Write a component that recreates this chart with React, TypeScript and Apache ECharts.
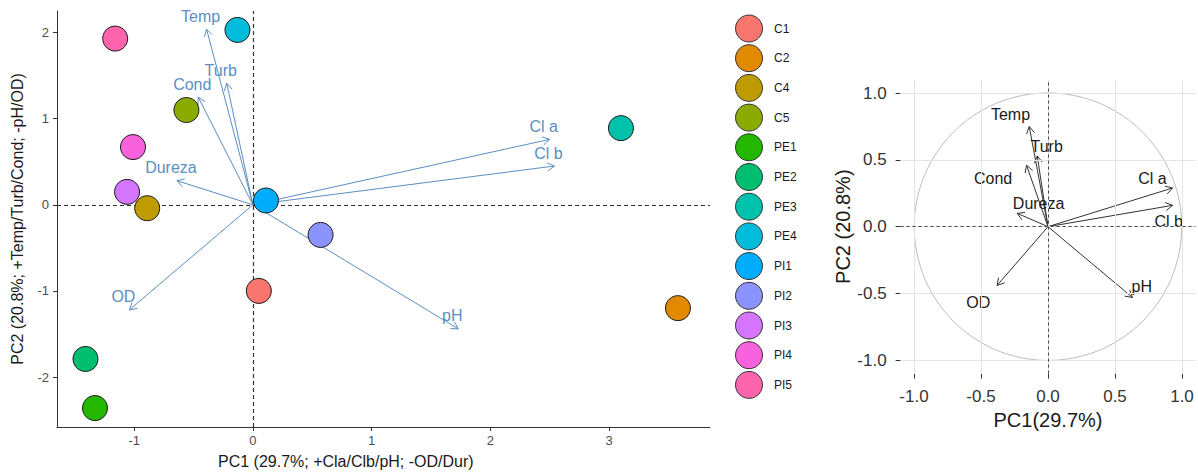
import React, { useEffect, useRef } from "react";
import * as echarts from "echarts";

// ---- Data ----
const samples = ["C1", "C2", "C4", "C5", "PE1", "PE2", "PE3", "PE4", "PI1", "PI2", "PI3", "PI4", "PI5"];
const sampleColors = ["#F8766D", "#E18A00", "#BE9C00", "#8CAB00", "#24B700", "#00BE70", "#00C1AB", "#00BBDA", "#00ACFC", "#8B93FF", "#D575FE", "#F962DD", "#FF65AC"];
const pc1Scores = [0.05, 3.58, -0.89, -0.56, -1.33, -1.41, 3.1, -0.13, 0.11, 0.57, -1.06, -1.01, -1.16];
const pc2Scores = [-1.0, -1.2, -0.04, 1.1, -2.36, -1.79, 0.89, 2.03, 0.05, -0.35, 0.15, 0.67, 1.93];

const variables = ["Temp", "Turb", "Cond", "Dureza", "Cl a", "Cl b", "OD", "pH"];
const biplotX = [-0.39, -0.22, -0.46, -0.64, 2.5, 2.54, -1.04, 1.73];
const biplotY = [2.04, 1.41, 1.25, 0.28, 0.76, 0.45, -1.22, -1.44];

const corX = [-0.14, -0.08, -0.16, -0.23, 0.93, 0.93, -0.38, 0.63];
const corY = [0.75, 0.53, 0.46, 0.1, 0.29, 0.16, -0.44, -0.53];
const corLabelX = [-0.28, -0.01, -0.41, -0.07, 0.78, 0.9, -0.52, 0.7];
const corLabelY = [0.84, 0.6, 0.36, 0.17, 0.36, 0.04, -0.57, -0.45];

const leftXTicks = [-1, 0, 1, 2, 3];
const leftYTicks = [-2, -1, 0, 1, 2];
const rightTicks = [-1, -0.5, 0, 0.5, 1];

const FONT = "Liberation Sans";

function arrowGroup(o: number[], p: number[], color: string, len: number) {
  const ang = Math.atan2(p[1] - o[1], p[0] - o[0]);
  const A = Math.PI / 6;
  const h1 = [p[0] - len * Math.cos(ang - A), p[1] - len * Math.sin(ang - A)];
  const h2 = [p[0] - len * Math.cos(ang + A), p[1] - len * Math.sin(ang + A)];
  return [
    { type: "line", shape: { x1: o[0], y1: o[1], x2: p[0], y2: p[1] }, style: { stroke: color, lineWidth: 1 } },
    { type: "polyline", shape: { points: [h1, p, h2] }, style: { stroke: color, lineWidth: 1, fill: null } },
  ];
}

export default function App() {
  const ref = useRef<HTMLDivElement>(null);
  useEffect(() => {
    document.body.style.margin = "0";
    const chart = echarts.init(ref.current!, null, { renderer: "svg" });

    const sampleSeries = samples.map((s, i) => ({
      name: s,
      type: "scatter",
      xAxisIndex: 0,
      yAxisIndex: 0,
      symbol: "circle",
      symbolSize: 25,
      z: 5,
      itemStyle: { color: sampleColors[i], borderColor: "#1a1a1a", borderWidth: 1, opacity: 1 },
      emphasis: { disabled: true },
      data: [[pc1Scores[i], pc2Scores[i]]],
    }));

    const option: any = {
      animation: false,
      textStyle: { fontFamily: FONT },
      grid: [
        { left: 57, top: 11, width: 653, height: 416 },
        { left: 900.6, top: 79.8, width: 294.8, height: 293.8 },
      ],
      xAxis: [
        {
          gridIndex: 0,
          type: "value",
          min: -1.65,
          max: 3.85,
          axisLine: { show: true, onZero: false, lineStyle: { color: "#333", width: 1 } },
          axisTick: { show: true, length: 4, customValues: leftXTicks, lineStyle: { color: "#333" } },
          axisLabel: { customValues: leftXTicks, color: "#4D4D4D", fontSize: 13, margin: 7 },
          splitLine: { show: false },
        },
        {
          gridIndex: 1,
          type: "value",
          min: -1.1,
          max: 1.1,
          name: "PC1(29.7%)",
          nameLocation: "middle",
          nameGap: 33,
          nameTextStyle: { fontSize: 20, color: "#1a1a1a" },
          axisLine: { show: false, onZero: false },
          axisTick: { show: true, length: 5, customValues: rightTicks, lineStyle: { color: "#333" } },
          axisLabel: { customValues: rightTicks, color: "#333", fontSize: 17, margin: 14, formatter: (v: number) => v.toFixed(1) },
          splitLine: { show: false },
        },
      ],
      yAxis: [
        {
          gridIndex: 0,
          type: "value",
          min: -2.58,
          max: 2.25,
          name: "PC2 (20.8%; +Temp/Turb/Cond; -pH/OD)",
          nameLocation: "middle",
          nameRotate: 90,
          nameGap: 32,
          nameTextStyle: { fontSize: 16, color: "#1a1a1a" },
          axisLine: { show: true, onZero: false, lineStyle: { color: "#333", width: 1 } },
          axisTick: { show: true, length: 4, customValues: leftYTicks, lineStyle: { color: "#333" } },
          axisLabel: { customValues: leftYTicks, color: "#4D4D4D", fontSize: 13, margin: 8 },
          splitLine: { show: false },
        },
        {
          gridIndex: 1,
          type: "value",
          min: -1.1,
          max: 1.1,
          name: "PC2 (20.8%)",
          nameLocation: "middle",
          nameRotate: 90,
          nameGap: 45,
          nameTextStyle: { fontSize: 20, color: "#1a1a1a" },
          axisLine: { show: false, onZero: false },
          axisTick: { show: true, length: 5, customValues: rightTicks, lineStyle: { color: "#333" } },
          axisLabel: { customValues: rightTicks, color: "#333", fontSize: 17, margin: 14, formatter: (v: number) => v.toFixed(1) },
          splitLine: { show: false },
        },
      ],
      legend: {
        orient: "vertical",
        left: 730,
        top: 9.5,
        itemWidth: 40,
        itemHeight: 27,
        itemGap: 1.7,
        icon: "circle",
        data: samples,
        selectedMode: false,
        textStyle: { fontSize: 12, color: "#1a1a1a", fontFamily: FONT },
        itemStyle: { borderColor: "#333", borderWidth: 1 },
      },
      graphic: [
        {
          type: "text",
          left: 349 - 131,
          top: 453,
          style: { text: "PC1 (29.7%; +Cla/Clb/pH; -OD/Dur)", fontSize: 16, fontFamily: FONT, fill: "#1a1a1a" },
        },
      ],
      series: [
        // left biplot arrows + zero lines
        {
          type: "custom",
          xAxisIndex: 0,
          yAxisIndex: 0,
          z: 3,
          silent: true,
          data: biplotX.map((x, i) => [x, biplotY[i]]),
          renderItem: (params: any, api: any) => {
            const i = params.dataIndex;
            const o = api.coord([0, 0]);
            const p = api.coord([api.value(0), api.value(1)]);
            return {
              type: "group",
              children: [
                ...arrowGroup(o, p, "#5B8EC3", 8),
                {
                  type: "text",
                  x: p[0] - 6,
                  y: p[1] - 13,
                  style: { text: variables[i], fill: "#5B8EC3", fontSize: 16, fontFamily: FONT, align: "center", verticalAlign: "middle" },
                },
              ],
            };
          },
          markLine: {
            silent: true,
            symbol: "none",
            label: { show: false },
            lineStyle: { color: "#333", type: [4, 3], width: 1.2 },
            data: [{ xAxis: 0 }, { yAxis: 0 }],
          },
        },
        ...sampleSeries,
        // right: grid lines + circle
        {
          type: "custom",
          xAxisIndex: 1,
          yAxisIndex: 1,
          z: 1,
          silent: true,
          data: [[0, 0]],
          renderItem: (params: any, api: any) => {
            const c = api.coord([0, 0]);
            const s = api.size([1, 1]);
            return {
              type: "circle",
              shape: { cx: c[0], cy: c[1], r: (s[0] + s[1]) / 2 },
              style: { stroke: "#BDBDBD", lineWidth: 1, fill: null },
            };
          },
          markLine: {
            silent: true,
            symbol: "none",
            label: { show: false },
            lineStyle: { color: "#E3E3E3", type: "solid", width: 1 },
            data: [...rightTicks.map((v) => ({ xAxis: v })), ...rightTicks.map((v) => ({ yAxis: v }))],
          },
        },
        // right: arrows
        {
          type: "custom",
          xAxisIndex: 1,
          yAxisIndex: 1,
          z: 4,
          silent: true,
          data: corX.map((x, i) => [x, corY[i]]),
          renderItem: (params: any, api: any) => {
            const i = params.dataIndex;
            const o = api.coord([0, 0]);
            const p = api.coord([api.value(0), api.value(1)]);
            const l = api.coord([corLabelX[i], corLabelY[i]]);
            return {
              type: "group",
              children: [
                ...arrowGroup(o, p, "#333", 8),
                {
                  type: "text",
                  x: l[0],
                  y: l[1],
                  style: { text: variables[i], fill: "#1a1a1a", fontSize: 16, fontFamily: FONT, align: "center", verticalAlign: "middle" },
                },
              ],
            };
          },
          markLine: {
            silent: true,
            symbol: "none",
            label: { show: false },
            lineStyle: { color: "#444", type: [3, 3], width: 1 },
            data: [{ xAxis: 0 }, { yAxis: 0 }],
          },
        },
      ],
    };

    chart.setOption(option);
    return () => chart.dispose();
  }, []);

  return <div ref={ref} style={{ width: 1198, height: 473 }} />;
}
